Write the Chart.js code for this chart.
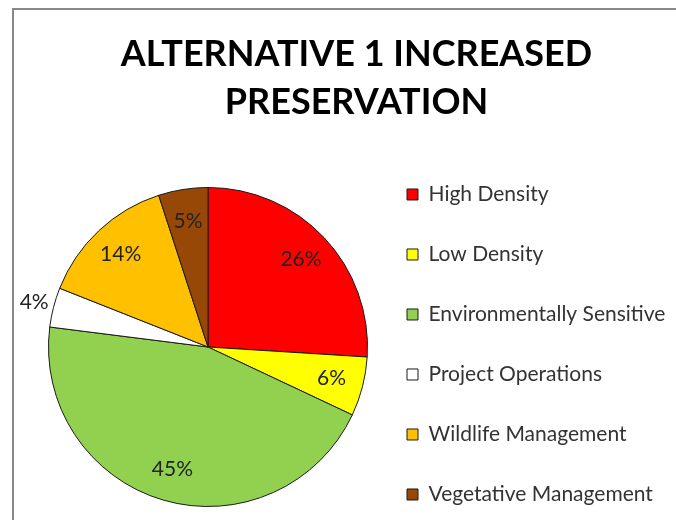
<!DOCTYPE html>
<html>
<head>
<meta charset="utf-8">
<script src="https://cdn.jsdelivr.net/npm/chart.js@4.4.1/dist/chart.umd.min.js"></script>
<style>
  html, body { margin: 0; padding: 0; background: #fff; overflow: hidden; }
  /* un peu plus haut que la fenetre : la legende et le camembert se calent comme l'original */
  #graph-container { width: 676px; height: 549px; position: relative; }
</style>
</head>
<body>
<div id="graph-container"><canvas id="graphiqueCamembert"></canvas></div>
<script>
// donnees
var categories = ['High Density', 'Low Density', 'Environmentally Sensitive', 'Project Operations', 'Wildlife Management', 'Vegetative Management'];
var percentages = [26, 6, 45, 4, 14, 5];
var couleurs = ['#FF0000', '#FFFF00', '#92D050', '#FFFFFF', '#FFC000', '#974806'];
var titre = ['ALTERNATIVE 1 INCREASED', 'PRESERVATION'];

// cadre gris autour de la zone du graphique
var cadre = {
    id: 'cadre',
    beforeDraw: function(chart) {
        var ctx = chart.ctx;
        ctx.save();
        ctx.fillStyle = '#888888';
        ctx.fillRect(12, 8, chart.width - 12, 2);
        ctx.fillRect(12, 8, 2, chart.height - 8);
        ctx.restore();
    }
};

// etiquettes en % sur chaque part
var etiquettes = {
    id: 'etiquettes',
    afterDatasetsDraw: function(chart) {
        var ctx = chart.ctx;
        var meta = chart.getDatasetMeta(0);
        ctx.save();
        ctx.font = '21px Lato';
        ctx.fillStyle = '#222222';
        ctx.textAlign = 'center';
        ctx.textBaseline = 'middle';
        meta.data.forEach(function(arc, i) {
            var p = arc.getProps(['x', 'y', 'startAngle', 'endAngle', 'outerRadius'], true);
            var milieu = (p.startAngle + p.endAngle) / 2;
            var r = percentages[i] < 5 ? p.outerRadius + 20 : p.outerRadius * 0.8;
            ctx.fillText(percentages[i] + '%', p.x + Math.cos(milieu) * r, p.y + Math.sin(milieu) * r);
        });
        ctx.restore();
    }
};

var ctx = document.getElementById('graphiqueCamembert').getContext('2d');
var myPieChart = new Chart(ctx, {
    type: 'pie',
    data: {
        labels: categories,
        datasets: [{
            data: percentages,
            backgroundColor: couleurs,
            borderColor: '#1a1a1a',
            borderWidth: 1
        }]
    },
    options: {
        responsive: true,
        maintainAspectRatio: false,
        animation: false,
        layout: { padding: { left: 48, right: 11, top: 0, bottom: 0 } },
        plugins: {
            tooltip: { enabled: false },
            title: {
                display: true,
                text: titre,
                color: '#000000',
                font: { family: 'Lato', size: 36, weight: 'bold', lineHeight: 1.3333 },
                padding: { top: 30, bottom: 19 }
            },
            legend: {
                position: 'right',
                align: 'start',
                fullSize: false,
                maxWidth: 297,
                labels: {
                    color: '#333333',
                    font: { family: 'Lato', size: 21 },
                    boxWidth: 11,
                    boxHeight: 11,
                    padding: 39
                }
            }
        }
    },
    plugins: [cadre, etiquettes]
});
</script>
</body>
</html>
